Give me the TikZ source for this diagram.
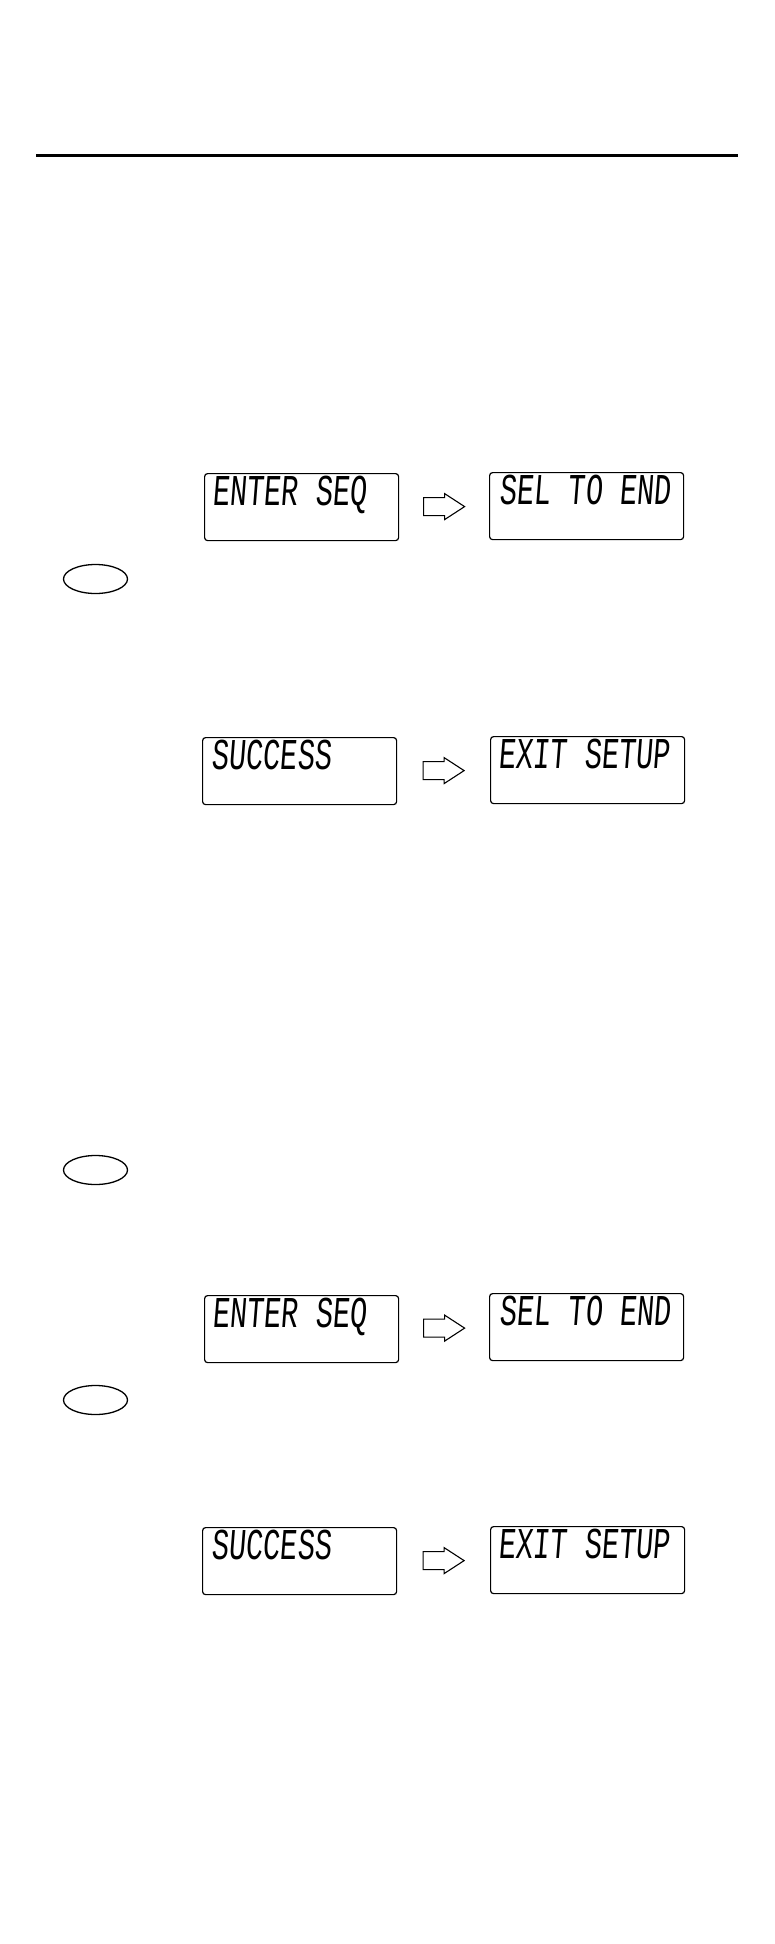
\documentclass[tikz,border=0pt]{standalone}
\usepackage{fontspec}
\usepackage{graphicx}
\usetikzlibrary{calc,shapes.geometric}
\newfontfamily\lcdfont[FakeSlant=0.12]{Liberation Mono}
\newcommand{\lcdtext}[1]{\scalebox{0.65}[1]{\fontsize{44}{44}\selectfont\lcdfont #1}}

\begin{document}
\begin{tikzpicture}[x=1pt,y=-1pt,
    display/.style={draw,line width=1.2pt,rounded corners=3pt,minimum width=194pt,minimum height=67pt,inner sep=0pt,anchor=north west},
    readout/.style={anchor=base west,inner sep=0pt},
    keyoval/.style={draw,line width=1.3pt,ellipse,minimum width=64pt,minimum height=29pt,inner sep=0pt},
    blockarrow/.style={draw,line width=1.1pt,line join=miter,fill=white}]
    \useasboundingbox (0,0) rectangle (774,1944);

    % Top rule
    \draw[line width=3pt] (36,155) -- (738,155);

    % First pass
    \node[display] (d1) at (204,473) {};
    \node[display] (d2) at (489,472) {};
    \node[display] (d3) at (202,737) {};
    \node[display] (d4) at (490,736) {};

    % Second pass
    \node[display] (d5) at (204,1295) {};
    \node[display] (d6) at (489,1293) {};
    \node[display] (d7) at (202,1527) {};
    \node[display] (d8) at (490,1526) {};

    % Readouts
    \node[readout] (t1) at ([shift={(8,32)}]d1.north west) {\lcdtext{ENTER SEQ}};
    \node[readout] (t2) at ([shift={(10,32)}]d2.north west) {\lcdtext{SEL TO END}};
    \node[readout] (t3) at ([shift={(9,32)}]d3.north west) {\lcdtext{SUCCESS}};
    \node[readout] (t4) at ([shift={(8,32)}]d4.north west) {\lcdtext{EXIT SETUP}};
    \node[readout] (t5) at ([shift={(8,32)}]d5.north west) {\lcdtext{ENTER SEQ}};
    \node[readout] (t6) at ([shift={(10,32)}]d6.north west) {\lcdtext{SEL TO END}};
    \node[readout] (t7) at ([shift={(9,32)}]d7.north west) {\lcdtext{SUCCESS}};
    \node[readout] (t8) at ([shift={(8,32)}]d8.north west) {\lcdtext{EXIT SETUP}};

    % Arrows between displays
    \foreach \a/\b in {d1/d2,d3/d4,d5/d6,d7/d8}{
        \coordinate (m) at ($(\a.east)!0.5!(\b.west)$);
        \draw[blockarrow] (m) ++(-20.5,-9) -- ++(21,0) -- ++(0,-4) -- ++(20,13)
            -- ++(-20,13) -- ++(0,-4) -- ++(-21,0) -- cycle;
    }

    % Key ovals
    \node[keyoval] (k1) at (95.5,579) {};
    \node[keyoval] (k2) at (95.5,1170) {};
    \node[keyoval] (k3) at (95.5,1400) {};
\end{tikzpicture}
\end{document}
